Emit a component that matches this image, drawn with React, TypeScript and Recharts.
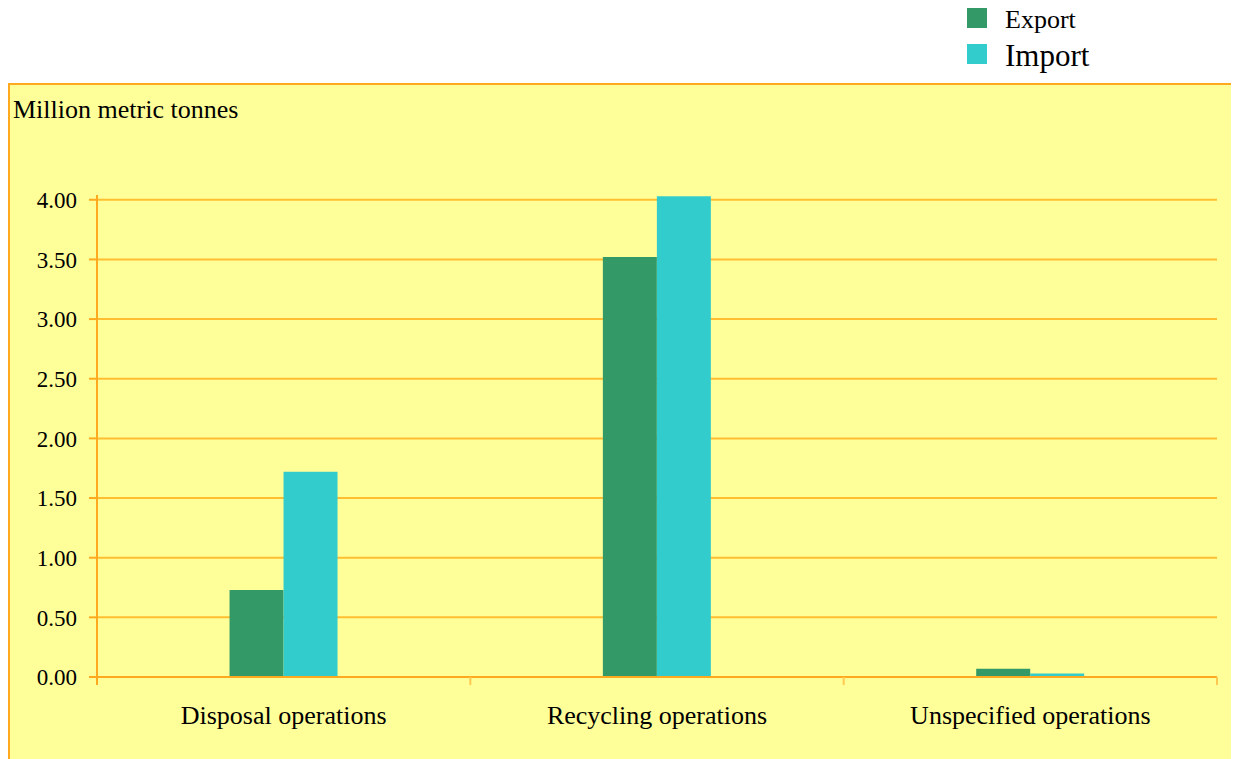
import React from "react";
import { BarChart, Bar, XAxis, YAxis, CartesianGrid } from "recharts";

const categories = ["Disposal operations", "Recycling operations", "Unspecified operations"];
const exportValues = [0.73, 3.52, 0.07];
const importValues = [1.72, 4.03, 0.03];
const yTicks = [0, 0.5, 1, 1.5, 2, 2.5, 3, 3.5, 4];

const SERIES = [
    { key: "export", name: "Export", color: "#339966", fontSize: 26 },
    { key: "import", name: "Import", color: "#33CCCC", fontSize: 31 },
];

const data = categories.map((name, i) => ({
    name,
    export: exportValues[i],
    import: importValues[i],
}));

const FONT = '"Liberation Serif", "Times New Roman", serif';
const AXIS = "#FFAA1E";
const GRID = "#FFBE32";
const TICK = "#FFC850";

// Excel-style category axis: label at the centre, tick marks at the band edges
function CategoryTick(props: any) {
    const { x, y, payload, index, width, visibleTicksCount } = props;
    const band = width / visibleTicksCount;
    const axisY = y - 29;
    return (
        <g>
            <line x1={x - band / 2} x2={x - band / 2} y1={axisY} y2={axisY + 8} stroke={index === 0 ? AXIS : TICK} strokeWidth={2} />
            {index === visibleTicksCount - 1 && (
                <line x1={x + band / 2} x2={x + band / 2} y1={axisY} y2={axisY + 8} stroke={TICK} strokeWidth={2} />
            )}
            <text x={x} y={y} textAnchor="middle" dy="0.71em" fill="#000" fontSize={26} fontFamily={FONT}>
                {payload.value}
            </text>
        </g>
    );
}

export default function App() {
    return (
        <div style={{ position: "relative", width: 1231, height: 751, fontFamily: FONT }}>
            <div
                style={{
                    position: "absolute",
                    left: 0,
                    top: 75,
                    width: 1226,
                    height: 700,
                    background: "#FFFF99",
                    border: `2px solid ${AXIS}`,
                }}
            />
            <div style={{ position: "absolute", left: 5, top: 87, fontSize: 26, color: "#000", whiteSpace: "nowrap" }}>
                Million metric tonnes
            </div>
            {SERIES.map((s, i) => (
                <div key={s.key} style={{ position: "absolute", left: 959, top: i === 0 ? 0 : 36, height: 20, display: "flex", alignItems: "center" }}>
                    <div style={{ width: 20, height: 20, background: s.color }} />
                    <span style={{ marginLeft: 18, fontSize: s.fontSize, color: "#000", whiteSpace: "nowrap", position: "relative", top: 2 }}>{s.name}</span>
                </div>
            ))}
            <div style={{ position: "absolute", left: 0, top: 0 }}>
                <BarChart
                    width={1231}
                    height={751}
                    data={data}
                    margin={{ top: 187, right: 22, bottom: 32, left: 0 }}
                    barCategoryGap="35.5%"
                    barGap={0}
                >
                    <CartesianGrid vertical={false} horizontalValues={yTicks} stroke={GRID} strokeWidth={2} />
                    <XAxis
                        dataKey="name"
                        height={50}
                        axisLine={{ stroke: AXIS, strokeWidth: 2 }}
                        tickLine={false}
                        tickMargin={23}
                        tick={<CategoryTick />}
                        interval={0}
                    />
                    <YAxis
                        width={89}
                        domain={[0, 4.04]}
                        ticks={yTicks}
                        tickFormatter={(v: number) => v.toFixed(2)}
                        tick={{ fill: "#000", fontSize: 23, fontFamily: FONT }}
                        tickSize={8}
                        tickMargin={12}
                        axisLine={{ stroke: AXIS, strokeWidth: 2 }}
                        tickLine={{ stroke: AXIS, strokeWidth: 2 }}
                        interval={0}
                    />
                    <YAxis
                        yAxisId="right"
                        orientation="right"
                        width={0}
                        tick={false}
                        tickLine={false}
                        axisLine={{ stroke: TICK, strokeWidth: 2 }}
                    />
                    {SERIES.map((s) => (
                        <Bar key={s.key} dataKey={s.key} name={s.name} fill={s.color} isAnimationActive={false} />
                    ))}
                </BarChart>
            </div>
        </div>
    );
}
